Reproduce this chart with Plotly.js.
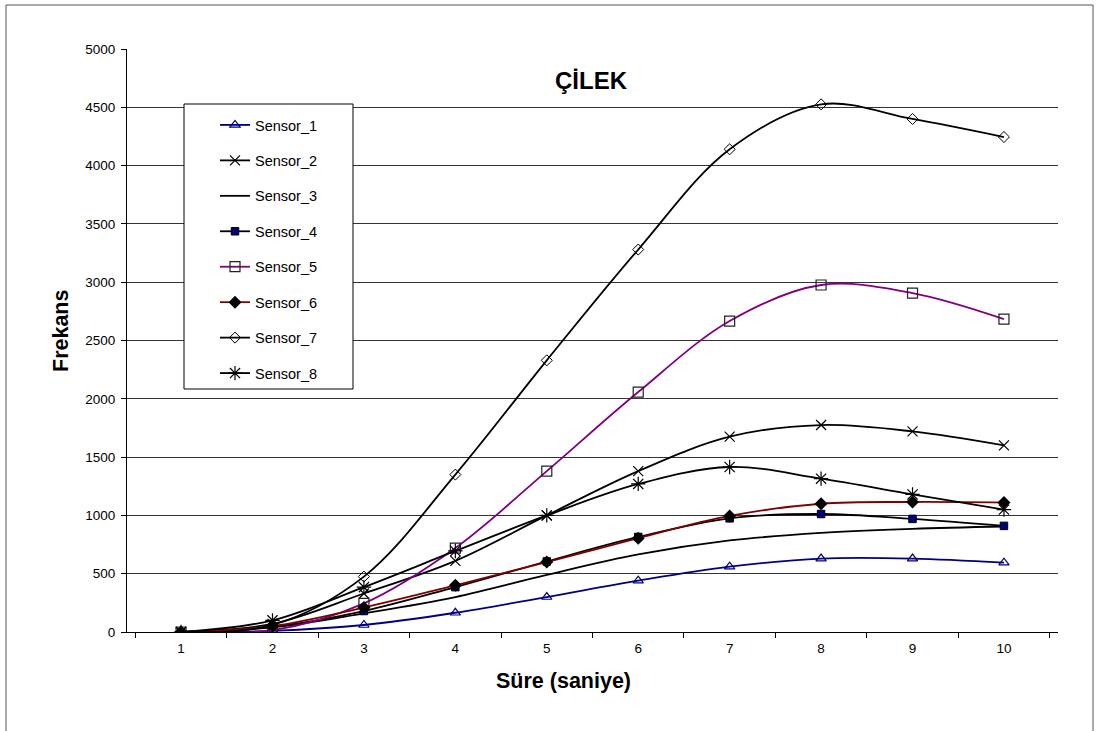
<!DOCTYPE html>
<html>
<head>
<meta charset="utf-8">
<script src="https://cdn.plot.ly/plotly-3.0.1.min.js"></script>
<style>html,body{margin:0;padding:0;background:#fff;}#chart{width:1099px;height:731px;}</style>
</head>
<body>
<div id="chart"></div>
<script>
const categories = ['1','2','3','4','5','6','7','8','9','10'];
const seriesNames = ['Sensor_1','Sensor_2','Sensor_3','Sensor_4','Sensor_5','Sensor_6','Sensor_7','Sensor_8'];
const sensor1 = [0, 10, 60, 165, 300, 440, 560, 630, 630, 595];
const sensor2 = [0, 70, 330, 610, 1000, 1380, 1675, 1775, 1720, 1600];
const sensor3 = [0, 40, 160, 300, 490, 665, 785, 850, 885, 905];
const sensor4 = [0, 45, 180, 385, 605, 815, 975, 1012, 970, 910];
const sensor5 = [0, 15, 245, 720, 1380, 2058, 2667, 2976, 2907, 2684];
const sensor6 = [0, 50, 210, 400, 600, 805, 995, 1100, 1115, 1110];
const sensor7 = [0, 60, 475, 1350, 2330, 3280, 4140, 4525, 4400, 4245];
const sensor8 = [0, 100, 385, 695, 1000, 1270, 1415, 1315, 1180, 1050];
const yTicks = [0,500,1000,1500,2000,2500,3000,3500,4000,4500,5000];
const chartTitle = 'ÇİLEK';
const xTitle = 'Süre (saniye)';
const yTitle = 'Frekans';

const allSeries = [sensor1,sensor2,sensor3,sensor4,sensor5,sensor6,sensor7,sensor8];
const styles = [
  {line:'#000080', marker:{symbol:'triangle-up-open', size:9, color:'#000080', line:{width:1.2}}},
  {line:'#000000', marker:{symbol:'x-thin-open', size:10, color:'#000000', line:{width:1.2}}},
  {line:'#000000', marker:null},
  {line:'#000000', marker:{symbol:'square', size:7.5, color:'#000080', line:{width:1, color:'#000000'}}},
  {line:'#800080', marker:{symbol:'square-open', size:10, color:'#222222', line:{width:1.2}}},
  {line:'#800000', marker:{symbol:'diamond', size:10, color:'#000000', line:{width:0}}},
  {line:'#000000', marker:{symbol:'diamond-open', size:8.5, color:'#000000', line:{width:1}}},
  {line:'#000000', marker:{symbol:'asterisk-open', size:12, color:'#000000', line:{width:1.2}}}
];

const traces = allSeries.map((ys, i) => {
  const t = {
    type:'scatter', x:categories, y:ys, name:seriesNames[i], legendgroup:'g'+i,
    mode: styles[i].marker ? 'lines+markers' : 'lines',
    line:{color:styles[i].line, width:1.8, shape:'spline', smoothing:1}
  };
  if (styles[i].marker) t.marker = styles[i].marker;
  return t;
});

const L = 127, R = 1058, T = 49, B = 632;
const px = v => (v - L) / (R - L);
const py = v => (B - v) / (B - T);

const layout = {
  width:1099, height:731,
  margin:{l:L, r:1099-R, t:T, b:731-B},
  paper_bgcolor:'#ffffff', plot_bgcolor:'#ffffff',
  font:{family:'"Liberation Sans", Arial, sans-serif', size:13, color:'#000'},
  showlegend:true,
  legend:{x:px(215), y:py(109), xanchor:'left', yanchor:'top', bgcolor:'rgba(0,0,0,0)', borderwidth:0,
          font:{size:14.5, color:'#000'}, tracegroupgap:13.6, itemwidth:30},
  xaxis:{type:'category', tickson:'boundaries', ticks:'outside', ticklen:5, tickcolor:'#000',
         showline:true, linecolor:'#000', linewidth:1, showgrid:false, zeroline:false,
         tickfont:{size:13.5}, ticklabelstandoff:4},
  yaxis:{range:[0,5000], tickvals:yTicks, ticks:'outside', ticklen:5, tickcolor:'#000',
         showline:true, linecolor:'#000', linewidth:1, showgrid:true, gridcolor:'#333', gridwidth:1,
         zeroline:false, tickfont:{size:13.5}, ticklabelstandoff:3},
  annotations:[
    {text:'<b>'+chartTitle+'</b>', xref:'paper', yref:'paper', x:px(591), y:py(80), xanchor:'center', yanchor:'middle',
     showarrow:false, font:{size:24, color:'#000'}},
    {text:'<b>'+xTitle+'</b>', xref:'paper', yref:'paper', x:px(563), y:py(681), xanchor:'center', yanchor:'middle',
     showarrow:false, font:{size:21.5, color:'#000'}},
    {text:'<b>'+yTitle+'</b>', xref:'paper', yref:'paper', x:px(61), y:py(331), xanchor:'center', yanchor:'middle',
     showarrow:false, textangle:-90, font:{size:21.5, color:'#000'}}
  ],
  shapes:[
    {type:'rect', xref:'paper', yref:'paper', x0:px(184), x1:px(353), y0:py(104), y1:py(389),
     fillcolor:'#ffffff', line:{color:'#000', width:1}, layer:'above'},
    {type:'rect', xref:'paper', yref:'paper', x0:px(6), x1:px(1093), y0:py(5), y1:py(760),
     fillcolor:'rgba(0,0,0,0)', line:{color:'#555', width:1}, layer:'below'}
  ]
};

Plotly.newPlot('chart', traces, layout, {displayModeBar:false, staticPlot:true});
</script>
</body>
</html>
